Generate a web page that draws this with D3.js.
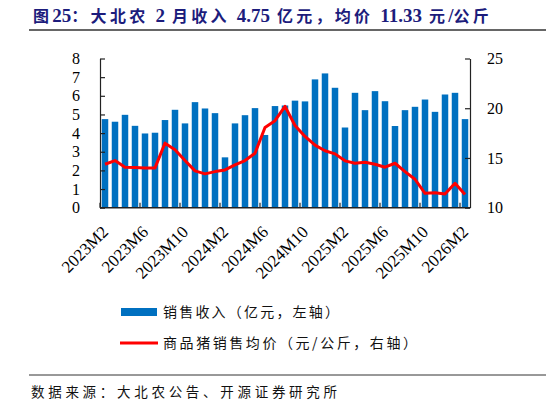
<!DOCTYPE html>
<html><head><meta charset="utf-8">
<script src="https://cdn.jsdelivr.net/npm/d3@7"></script>
<style>
html,body{margin:0;padding:0;background:#fff;}
svg{display:block;}
</style></head>
<body>
<svg id="c" width="546" height="405"></svg>
<script>
const months = ["2023M2","2023M3","2023M4","2023M5","2023M6","2023M7","2023M8","2023M9","2023M10","2023M11","2023M12","2024M1",
"2024M2","2024M3","2024M4","2024M5","2024M6","2024M7","2024M8","2024M9","2024M10","2024M11","2024M12","2025M1",
"2025M2","2025M3","2025M4","2025M5","2025M6","2025M7","2025M8","2025M9","2025M10","2025M11","2025M12","2026M1","2026M2"];
const revenue = [4.75,4.61,4.98,4.39,3.98,4.02,4.70,5.25,4.52,5.66,5.32,5.07,
2.70,4.52,4.96,5.34,3.90,5.45,5.48,5.74,5.70,6.88,7.20,6.43,
4.30,6.16,5.23,6.25,5.71,4.38,5.23,5.41,5.80,5.14,6.07,6.16,4.75];
const price = [14.37,14.74,14.07,14.04,14.0,14.0,16.49,15.82,14.74,13.7,13.40,13.63,
13.8,14.3,14.74,15.48,18.07,18.75,20.19,18.27,17.16,16.29,15.72,15.41,
14.71,14.47,14.57,14.37,14.07,14.47,13.63,12.86,11.45,11.51,11.38,12.46,11.33];
const leftTicks = [0,1,2,3,4,5,6,7,8];
const rightTicks = [10,15,20,25];
const tickLabels = ["2023M2","2023M6","2023M10","2024M2","2024M6","2024M10","2025M2","2025M6","2025M10","2026M2"];
const titleParts = [["图",0],["25",1],["：大北农 ",0],["2",1],[" 月收入 ",0],["4.75",1],[" 亿元，均价 ",0],["11.33",1],[" 元",0],["/",1],["公斤",0]];
const legendItems = ["销售收入（亿元，左轴）","商品猪销售均价（元/公斤，右轴）"];
const sourceText = "数据来源：大北农公告、开源证券研究所";

const svg = d3.select("#c");
const L = 100, R = 470, T = 58.5, B = 207.7;
const blue = "#0070c0", red = "#ff0000", axisCol = "#222";
const serif = "'Liberation Serif','Times New Roman',serif";
const cjk = "'Noto Sans CJK SC',sans-serif";

const x = d3.scaleBand().domain(months).range([L,R]).paddingInner(0.35).paddingOuter(0.175);
const yL = d3.scaleLinear().domain([0,8]).range([B,T]);
const yR = d3.scaleLinear().domain([10,25]).range([B,T]);

// title
const tt = svg.append("text").attr("x",33).attr("y",22).attr("fill","#1c1c7c").attr("font-weight","bold");
tt.selectAll("tspan").data(titleParts).join("tspan")
  .attr("font-family",d=>d[1]?serif:cjk).attr("font-size",d=>d[1]?19:16)
  .attr("letter-spacing",d=>d[1]?0:3.3).text(d=>d[0]);
svg.append("line").attr("x1",29).attr("x2",546).attr("y1",30).attr("y2",30).attr("stroke","#333").attr("stroke-width",1.3);

// bars
svg.append("g").selectAll("rect").data(months).join("rect")
  .attr("x",d=>x(d)).attr("width",x.bandwidth())
  .attr("y",(d,i)=>yL(revenue[i])).attr("height",(d,i)=>B-yL(revenue[i]))
  .attr("fill",blue);

// line
const line = d3.line().x((d,i)=>x(months[i])+x.bandwidth()/2).y(d=>yR(d)).curve(d3.curveLinear);
svg.append("path").datum(price).attr("d",line).attr("fill","none").attr("stroke",red)
  .attr("stroke-width",3).attr("stroke-linejoin","round");

// left axis
const gl = svg.append("g").attr("transform",`translate(${L},0)`)
  .call(d3.axisLeft(yL).tickValues(leftTicks).tickSizeInner(-5).tickSizeOuter(0).tickPadding(20).tickFormat(d3.format("d")));
// right axis
const gr = svg.append("g").attr("transform",`translate(${R},0)`)
  .call(d3.axisRight(yR).tickValues(rightTicks).tickSizeInner(-5).tickSizeOuter(0).tickPadding(17).tickFormat(d3.format("d")));
[gl,gr].forEach(g=>{
  g.select(".domain").attr("stroke",axisCol).attr("stroke-width",1.2);
  g.selectAll(".tick line").attr("stroke",axisCol).attr("stroke-width",1.2);
  g.selectAll("text").attr("font-family",serif).attr("font-size",16).attr("fill","#000");
});

// bottom axis
const boundaryScale = d3.scaleLinear().domain([0,months.length]).range([L,R]);
const xb = svg.append("g").attr("transform",`translate(0,${B})`);
xb.append("line").attr("x1",L).attr("x2",R).attr("stroke",axisCol).attr("stroke-width",1.5);
xb.selectAll("line.t").data(d3.range(0,months.length+1,4)).join("line").attr("class","t")
  .attr("x1",d=>boundaryScale(d)).attr("x2",d=>boundaryScale(d)).attr("y1",0).attr("y2",-5)
  .attr("stroke",axisCol).attr("stroke-width",1.2);
xb.selectAll("text").data(tickLabels).join("text")
  .attr("transform",d=>`translate(${x(d)+x.bandwidth()/2},${21}) rotate(-45)`)
  .attr("text-anchor","end").attr("dy","0.35em")
  .attr("font-family",serif).attr("font-size",17).attr("fill","#000")
  .text(d=>d);

// legend
const lg = svg.append("g");
lg.append("rect").attr("x",121).attr("y",308).attr("width",36).attr("height",8).attr("fill",blue);
lg.append("line").attr("x1",120).attr("x2",158).attr("y1",343).attr("y2",343).attr("stroke",red).attr("stroke-width",3);
const legLen = [176,254];
lg.selectAll("text").data(legendItems).join("text")
  .attr("x",163).attr("y",(d,i)=>312+i*31).attr("dy","0.35em")
  .attr("textLength",(d,i)=>legLen[i]).attr("lengthAdjust","spacing")
  .attr("font-family",cjk).attr("font-size",14).attr("fill","#111").text(d=>d);

// source
svg.append("line").attr("x1",29).attr("x2",546).attr("y1",375).attr("y2",375).attr("stroke","#333").attr("stroke-width",1);
svg.append("text").attr("x",31).attr("y",392).attr("dy","0.35em").attr("textLength",306).attr("lengthAdjust","spacing")
  .attr("font-family",cjk).attr("font-size",13.5).attr("fill","#111").text(sourceText);
</script>
</body></html>
